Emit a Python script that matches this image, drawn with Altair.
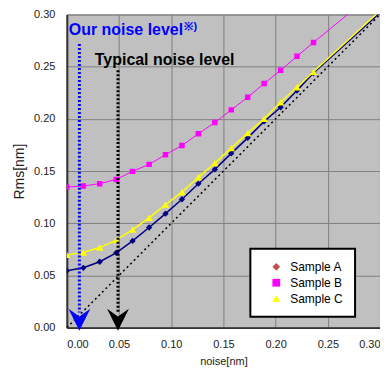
import altair as alt
import pandas as pd

noise = [0.0, 0.0158, 0.0315, 0.0473, 0.063, 0.0788, 0.0945, 0.1103, 0.126,
         0.1418, 0.1575, 0.1733, 0.189, 0.2048, 0.2205, 0.2363, 0.40]
sample_a = [0.0545, 0.0573, 0.0631, 0.0717, 0.0831, 0.0959, 0.1092, 0.1230, 0.1379,
            0.1516, 0.1669, 0.1818, 0.1975, 0.2111, 0.2271, 0.2439, 0.3925]
sample_b = [0.1347, 0.1357, 0.1379, 0.1420, 0.1497, 0.1564, 0.1656, 0.1745, 0.1857,
            0.1965, 0.2086, 0.2207, 0.2338, 0.2465, 0.2599, 0.2732, 0.4074]
sample_c = [0.0697, 0.0719, 0.0767, 0.0838, 0.0939, 0.1051, 0.1178, 0.1299, 0.1440,
            0.1576, 0.1720, 0.1863, 0.2000, 0.2159, 0.2303, 0.2452, 0.3950]

series_names = ["Sample A", "Sample B", "Sample C"]
legend_colors = ["#C0504D", "#FF00FF", "#FFFF00"]
legend_shapes = ["diamond", "square", "triangle-up"]

ideal_x = [0.0, 0.30]
ideal_y = [0.0, 0.30]

our_noise = 0.012
typical_noise = 0.049
our_top = 0.2716
typical_top = 0.2465
arrow_bottom = 0.0145
arrow_y = 0.0075

FONT = "Liberation Sans"
ticks = [0.0, 0.05, 0.10, 0.15, 0.20, 0.25, 0.30]

xs = alt.Scale(domain=[0, 0.30], nice=False, zero=False)
ys = alt.Scale(domain=[0, 0.30], nice=False, zero=False)

xax = alt.Axis(values=ticks, format=".2f", title="noise[nm]", titleFontSize=11,
               titleFontWeight="normal", titlePadding=6, labelPadding=11)
yax = alt.Axis(values=ticks, format=".2f", title="Rms[nm]", titleFontSize=14,
               titleFontWeight="normal", titlePadding=7, labelPadding=12)

df = pd.DataFrame({"noise": noise, "A": sample_a, "B": sample_b, "C": sample_c})

base = alt.Chart(df)


def series(col, color, shape, size, width):
    line = base.mark_line(color=color, strokeWidth=width, clip=True).encode(
        x=alt.X("noise:Q", scale=xs, axis=xax),
        y=alt.Y(f"{col}:Q", scale=ys, axis=yax),
    )
    pts = base.mark_point(color=color, filled=True, shape=shape, size=size,
                          opacity=1, clip=True).encode(
        x=alt.X("noise:Q", scale=xs),
        y=alt.Y(f"{col}:Q", scale=ys),
    )
    return line + pts


ideal = alt.Chart(pd.DataFrame({"x": ideal_x, "y": ideal_y})).mark_line(
    color="black", strokeWidth=1.5, strokeDash=[2, 3], clip=True
).encode(x=alt.X("x:Q", scale=xs), y=alt.Y("y:Q", scale=ys))

vdf = pd.DataFrame({
    "x": [our_noise, typical_noise],
    "top": [our_top, typical_top],
    "bottom": [arrow_bottom, arrow_bottom],
    "ay": [arrow_y, arrow_y],
    "kind": ["our", "typical"],
})
vcolor = alt.Color("kind:N", scale=alt.Scale(domain=["our", "typical"],
                                             range=["#0000FF", "#000000"]), legend=None)
vlines = alt.Chart(vdf).mark_rule(strokeWidth=3, strokeDash=[2, 2]).encode(
    x=alt.X("x:Q", scale=xs), y=alt.Y("top:Q", scale=ys), y2="bottom:Q", color=vcolor
)
arrows = alt.Chart(vdf).mark_point(
    shape="M-1,-1 L0,-0.3 L1,-1 L0,1 Z", filled=True, size=480, opacity=1
).encode(x=alt.X("x:Q", scale=xs), y=alt.Y("ay:Q", scale=ys), color=vcolor)

tdf = pd.DataFrame({
    "x": [0.0019, 0.1127, 0.0268],
    "y": [0.2799, 0.2848, 0.2513],
    "t": ["Our noise level", "※)", "Typical noise level"],
    "c": ["blue1", "blue2", "black"],
    "s": [16, 11, 16],
})
texts = alt.Chart(tdf).mark_text(align="left", baseline="alphabetic", font=FONT,
                                 fontWeight="bold").encode(
    x=alt.X("x:Q", scale=xs), y=alt.Y("y:Q", scale=ys), text="t:N",
    color=alt.Color("c:N", scale=alt.Scale(domain=["blue1", "blue2", "black"],
                                           range=["#0000FF", "#0000FF", "#000000"]),
                    legend=None),
    size=alt.Size("s:Q", scale=None, legend=None),
)

ldf = pd.DataFrame({"series": series_names})
nb = "\u00a0" * 6
leg = alt.Legend(title=None, orient="none", legendX=184, legendY=235,
                 fillColor="white", strokeColor="black", padding=12,
                 symbolOffset=8, labelOffset=8, rowPadding=4,
                 labelFontSize=12, labelFont=FONT, labelColor="black",
                 symbolSize=60, symbolStrokeWidth=0, symbolOpacity=1,
                 labelExpr=f"datum.label + '{nb}'")
legend_layer = alt.Chart(ldf).mark_point(filled=True).encode(
    x=alt.value(-200), y=alt.value(-200),
    fill=alt.Fill("series:N", scale=alt.Scale(domain=series_names, range=legend_colors),
                  legend=leg),
    shape=alt.Shape("series:N", scale=alt.Scale(domain=series_names, range=legend_shapes),
                    legend=leg),
)

chart = alt.layer(
    ideal,
    series("A", "#000080", "diamond", 40, 1.5),
    series("C", "#FFFF00", "triangle-up", 55, 1.5),
    series("B", "#FF00FF", "square", 30, 1),
    vlines, arrows, texts, legend_layer,
).resolve_scale(color="independent").properties(
    width=314, height=314,
    autosize=alt.AutoSizeParams(type="none"),
    padding={"left": 59, "top": 6, "right": 0, "bottom": 42},
).configure_view(
    fill="#C0C0C0", stroke="#808080", strokeWidth=1
).configure_axis(
    labelFont=FONT, titleFont=FONT, labelFontSize=11, labelColor="#222222",
    titleColor="#222222", gridColor="#808080", gridWidth=1, ticks=False,
    domainColor="#333333", domainWidth=2,
).configure_legend(strokeWidth=2)

chart.save("out.html", embed_options={"renderer": "svg", "actions": False})
